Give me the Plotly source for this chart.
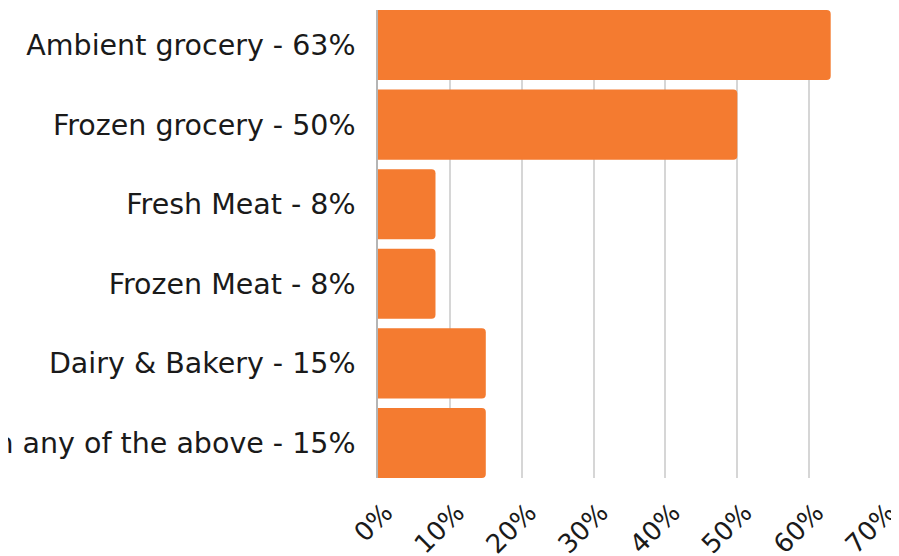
import plotly.graph_objects as go

categories = ["Ambient grocery", "Frozen grocery", "Fresh Meat", "Frozen Meat",
              "Dairy & Bakery", "Not in any of the above"]
values = [63, 50, 8, 8, 15, 15]
x_ticks = [0, 10, 20, 30, 40, 50, 60, 70]
x_tick_labels = [f"{t}%" for t in x_ticks]

labels = [f"{c} - {v}%" for c, v in zip(categories, values)]

FONT = "DejaVu Sans"

fig = go.Figure(go.Bar(
    x=values, y=labels, orientation="h",
    marker=dict(color="#F47B30", line=dict(width=0)),
    hoverinfo="skip",
))

fig.update_layout(
    template="none",
    width=899, height=556,
    margin=dict(l=370, r=26, t=2, b=86, autoexpand=False),
    paper_bgcolor="white", plot_bgcolor="white",
    bargap=0.12,
    barcornerradius=4,
    showlegend=False,
    font=dict(family=FONT, color="#1a1a1a"),
)
fig.update_xaxes(
    range=[0, 70], tickvals=x_ticks, ticktext=x_tick_labels,
    tickangle=-45, tickfont=dict(size=26, family=FONT, color="#1a1a1a"),
    showgrid=True, gridcolor="#d6d6d6", gridwidth=1.5,
    zeroline=False, showline=False, ticks="", automargin=False,
    ticklabelstandoff=13, ticklabelshift=7, ticklabeloverflow="allow",
)
fig.update_yaxes(
    categoryorder="array", categoryarray=labels,
    autorange=False, range=[5.44, -0.44],
    tickfont=dict(size=28.5, family=FONT, color="#1a1a1a"),
    showgrid=False, zeroline=False, showline=True, linecolor="#b5b5b5", linewidth=1.5,
    ticks="", ticklabelstandoff=15, automargin=False,
)

fig.write_html("out.html")
